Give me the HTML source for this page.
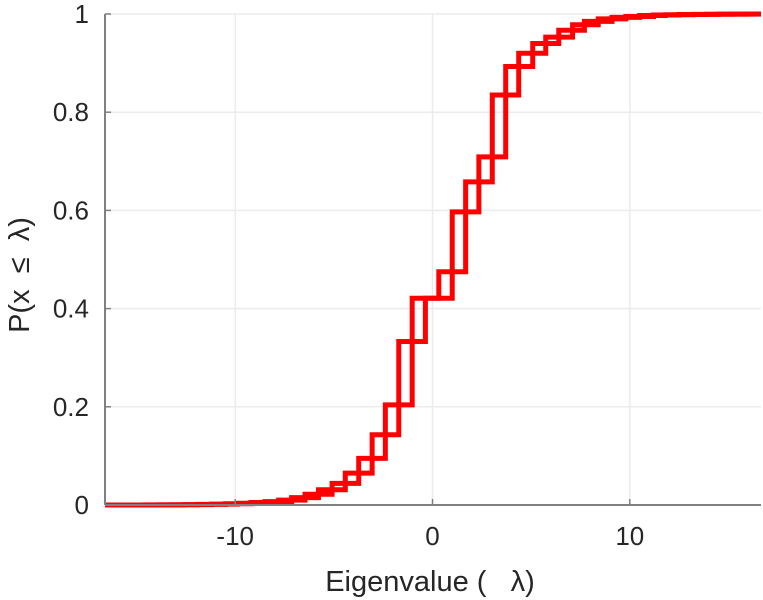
<!DOCTYPE html>
<html><head><meta charset="utf-8"><style>
html,body{margin:0;padding:0;background:#fff;}
svg{display:block;font-family:"Liberation Sans",sans-serif;}
.pre{white-space:pre;}
</style></head><body>
<svg id="chart" width="763" height="600">
<g id="grid"></g>
<g id="series" clip-path="url(#clip)"></g>
<g id="axes"></g>
<defs><clipPath id="clip"><rect x="105" y="8" width="656" height="500"/></clipPath></defs>
<text class="pre" x="430" y="591" font-size="29" fill="#262626" text-anchor="middle">Eigenvalue (   λ)</text>
<text class="pre" transform="translate(29,275) rotate(-90)" font-size="29" fill="#262626" text-anchor="middle">P(x  ≤  λ)</text>
</svg>
<script>
const xTicks=[-10,0,10];
const xTickLabels=["-10","0","10"];
const yTicks=[0,0.2,0.4,0.6,0.8,1];
const yTickLabels=["0","0.2","0.4","0.6","0.8","1"];
const seriesAX=[-15.3,-13.9,-12.6,-11.2,-9.9,-8.5,-7.14,-5.78,-4.42,-3.06,-1.71,-0.36,1.00,2.35,3.71,5.08,6.4,7.7,9.1,10.5,11.8,13.2,14.5,15.9];
const seriesAY=[0.0001,0.0003,0.0008,0.0018,0.0035,0.007,0.015,0.031,0.065,0.143,0.333,0.421,0.597,0.709,0.893,0.94,0.967,0.985,0.993,0.997,0.9985,0.9993,0.9997,0.9999];
const seriesBX=[-15.9,-14.6,-13.2,-11.9,-10.5,-9.2,-7.8,-6.46,-5.09,-3.74,-2.39,-1.03,0.32,1.68,3.03,4.37,5.74,7.1,8.4,9.8,11.2,12.5,13.9,15.2];
const seriesBY=[0.00005,0.0002,0.0005,0.0012,0.0025,0.005,0.010,0.022,0.044,0.095,0.204,0.421,0.475,0.658,0.835,0.92,0.953,0.978,0.99,0.995,0.998,0.999,0.9995,0.9998];
const xMin=-16.6,xMax=16.65;
const L=105,R=761,T=14,B=505;
const sx=v=>L+(v-xMin)/(xMax-xMin)*(R-L);
const sy=v=>B-v*(B-T);
const NS="http://www.w3.org/2000/svg";
const grid=document.getElementById('grid'),axes=document.getElementById('axes'),ser=document.getElementById('series');
function mk(tag,at,parent){const e=document.createElementNS(NS,tag);for(const k in at)e.setAttribute(k,at[k]);parent.appendChild(e);return e;}
xTicks.forEach((t,i)=>{
  const g=mk('line',{x1:sx(t),x2:sx(t),y1:T,y2:B,stroke:'#ebebeb','stroke-width':1.5},grid);
  
  
  const tk=mk('line',{x1:sx(t),x2:sx(t),y1:B,y2:B-6,stroke:'#808080','stroke-width':1.5},axes);
  
  
  const tx=mk('text',{x:sx(t),y:545,'font-size':26,fill:'#262626','text-anchor':'middle'},axes);
  tx.textContent=xTickLabels[i];
  
  
});
yTicks.forEach((t,i)=>{
  const g=mk('line',{x1:L,x2:R,y1:sy(t),y2:sy(t),stroke:'#ebebeb','stroke-width':1.5},grid);
  
  
  const tk=mk('line',{x1:L,x2:L+6,y1:sy(t),y2:sy(t),stroke:'#808080','stroke-width':1.5},axes);
  
  
  const tx=mk('text',{x:89,y:sy(t)+9,'font-size':26,fill:'#262626','text-anchor':'end'},axes);
  tx.textContent=yTickLabels[i];
  
  
});
const ax1=mk('line',{x1:L,x2:L,y1:T,y2:B,stroke:'#808080','stroke-width':2},axes);


const ax2=mk('line',{x1:L,x2:R,y1:B,y2:B,stroke:'#808080','stroke-width':2},axes);


function stairs(xs,ys){
  let d='M'+sx(xMin-1)+','+sy(0);
  for(let i=0;i<xs.length;i++){d+=' H'+sx(xs[i])+' V'+sy(ys[i]);}
  d+=' H'+sx(xMax+1);
  return d;
}
const pA=mk('path',{d:stairs(seriesAX,seriesAY),fill:'none',stroke:'#ff0000','stroke-width':5,'stroke-linejoin':'miter'},ser);


const pB=mk('path',{d:stairs(seriesBX,seriesBY),fill:'none',stroke:'#ff0000','stroke-width':5,'stroke-linejoin':'miter'},ser);


</script>
</body></html>
